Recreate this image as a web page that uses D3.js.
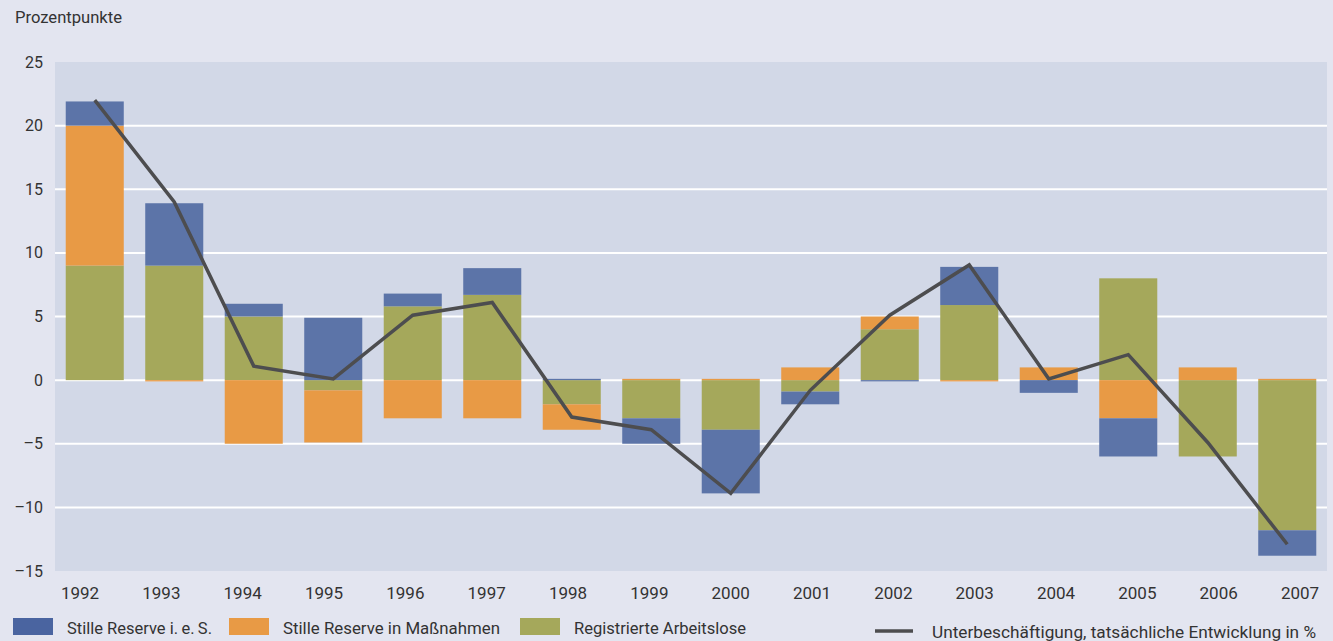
<!DOCTYPE html>
<html>
<head>
<meta charset="utf-8">
<script src="https://cdn.jsdelivr.net/npm/d3@7"></script>
<style>
  body { margin: 0; background: #e3e5f0; }
  svg text { font-family: Roboto, "DejaVu Sans", sans-serif; fill: #333; }
</style>
</head>
<body>
<svg class="chart"></svg>
<script>
'use strict';

var years = ['1992','1993','1994','1995','1996','1997','1998','1999','2000','2001','2002','2003','2004','2005','2006','2007'];
var registrierte = [9.0, 9.0, 5.0, -0.8, 5.8, 6.7, -1.9, -3.0, -3.9, -0.9, 4.0, 5.9, 0.0, 8.0, -6.0, -11.8];
var massnahmen   = [11.0, -0.1, -5.0, -4.1, -3.0, -3.0, -2.0, 0.1, 0.1, 1.0, 1.0, -0.1, 1.0, -3.0, 1.0, 0.1];
var reserve      = [1.9, 4.9, 1.0, 4.9, 1.0, 2.1, 0.1, -2.0, -5.0, -1.0, -0.1, 3.0, -1.0, -3.0, 0.0, -2.0];
var unterbesch   = [22.0, 14.0, 1.1, 0.1, 5.1, 6.1, -2.9, -3.9, -8.9, -0.8, 5.1, 9.05, 0.1, 2.0, -4.9, -12.9];
var yTicks = [25, 20, 15, 10, 5, 0, -5, -10, -15];

var keys = ['registrierte', 'massnahmen', 'reserve'];
var colors = { registrierte: '#a5a85b', massnahmen: '#e89a45', reserve: '#5c74a8' };

var W = 1333, H = 641;
var margin = { top: 62, bottom: 70, left: 55, right: 6 };

var svg = d3.select('.chart').attr('width', W).attr('height', H);

var x = d3.scaleBand().domain(years).range([margin.left, W - margin.right])
    .paddingInner(0.27).paddingOuter(0.135);
// the year labels sit on a slightly wider spacing than the bars
var xLabel = d3.scalePoint().domain(years).range([80, 1300]);
var y = d3.scaleLinear().domain([-15, 25]).range([H - margin.bottom, margin.top]);

// plot background
svg.append('rect')
    .attr('x', margin.left).attr('y', y(25))
    .attr('width', W - margin.right - margin.left).attr('height', y(-15) - y(25))
    .attr('fill', '#d2d8e7');

// grid
svg.append('g').selectAll('line').data(yTicks.filter(function (d) { return d < 25 && d > -15; }))
    .enter().append('line')
    .attr('x1', margin.left).attr('x2', W - margin.right)
    .attr('y1', function (d) { return y(d); }).attr('y2', function (d) { return y(d); })
    .attr('stroke', '#fff').attr('stroke-width', 2);

// y labels
svg.append('g').selectAll('text').data(yTicks).enter().append('text')
    .attr('x', 43).attr('y', function (d) { return y(d); })
    .attr('dy', '0.35em').attr('text-anchor', 'end')
    .style('font-size', '16px')
    .text(function (d) { return d < 0 ? '\u2013' + Math.abs(d) : d; });

svg.append('text').attr('x', 15).attr('y', 23).style('font-size', '16px')
    .attr('textLength', 107).attr('lengthAdjust', 'spacingAndGlyphs')
    .text('Prozentpunkte');

// x labels
svg.append('g').selectAll('text').data(years).enter().append('text')
    .attr('x', function (d) { return xLabel(d); })
    .attr('y', 599).attr('text-anchor', 'middle')
    .style('font-size', '17px')
    .text(function (d) { return d; });

// stacked bars
var table = years.map(function (yr, i) {
    return { year: yr, registrierte: registrierte[i], massnahmen: massnahmen[i], reserve: reserve[i] };
});
var series = d3.stack().keys(keys).offset(d3.stackOffsetDiverging)(table);

svg.append('g').selectAll('g').data(series).enter().append('g')
    .attr('fill', function (d) { return colors[d.key]; })
    .selectAll('rect').data(function (d) { return d; }).enter().append('rect')
    .attr('x', function (d) { return x(d.data.year); })
    .attr('width', x.bandwidth())
    .attr('y', function (d) { return y(Math.max(d[0], d[1])); })
    .attr('height', function (d) { return Math.abs(y(d[0]) - y(d[1])); });

// line
var line = d3.line()
    .x(function (d, i) { return x(years[i]) + x.bandwidth() / 2; })
    .y(function (d) { return y(d); });
svg.append('path').datum(unterbesch)
    .attr('d', line).attr('fill', 'none')
    .attr('stroke', '#4d4d4f').attr('stroke-width', 3.5)
    .attr('stroke-linejoin', 'miter');

// legend
var legendItems = [
    { label: 'Stille Reserve i.\u2009e.\u2009S.', color: '#4a64a0', x: 13, len: 145 },
    { label: 'Stille Reserve in Maßnahmen', color: colors.massnahmen, x: 229, len: 217 },
    { label: 'Registrierte Arbeitslose', color: colors.registrierte, x: 520, len: 172 }
];
var lg = svg.append('g').selectAll('g').data(legendItems).enter().append('g');
lg.append('rect').attr('x', function (d) { return d.x; }).attr('y', 618)
    .attr('width', 40).attr('height', 17).attr('fill', function (d) { return d.color; });
lg.append('text').attr('x', function (d) { return d.x + 54; }).attr('y', 634)
    .style('font-size', '17px')
    .attr('textLength', function (d) { return d.len; }).attr('lengthAdjust', 'spacingAndGlyphs')
    .text(function (d) { return d.label; });

svg.append('line').attr('x1', 875).attr('x2', 913).attr('y1', 631).attr('y2', 631)
    .attr('stroke', '#4d4d4f').attr('stroke-width', 3.5);
svg.append('text').attr('x', 932).attr('y', 638).style('font-size', '17px')
    .attr('textLength', 384).attr('lengthAdjust', 'spacingAndGlyphs')
    .text('Unterbeschäftigung, tatsächliche Entwicklung in %');
</script>
</body>
</html>
